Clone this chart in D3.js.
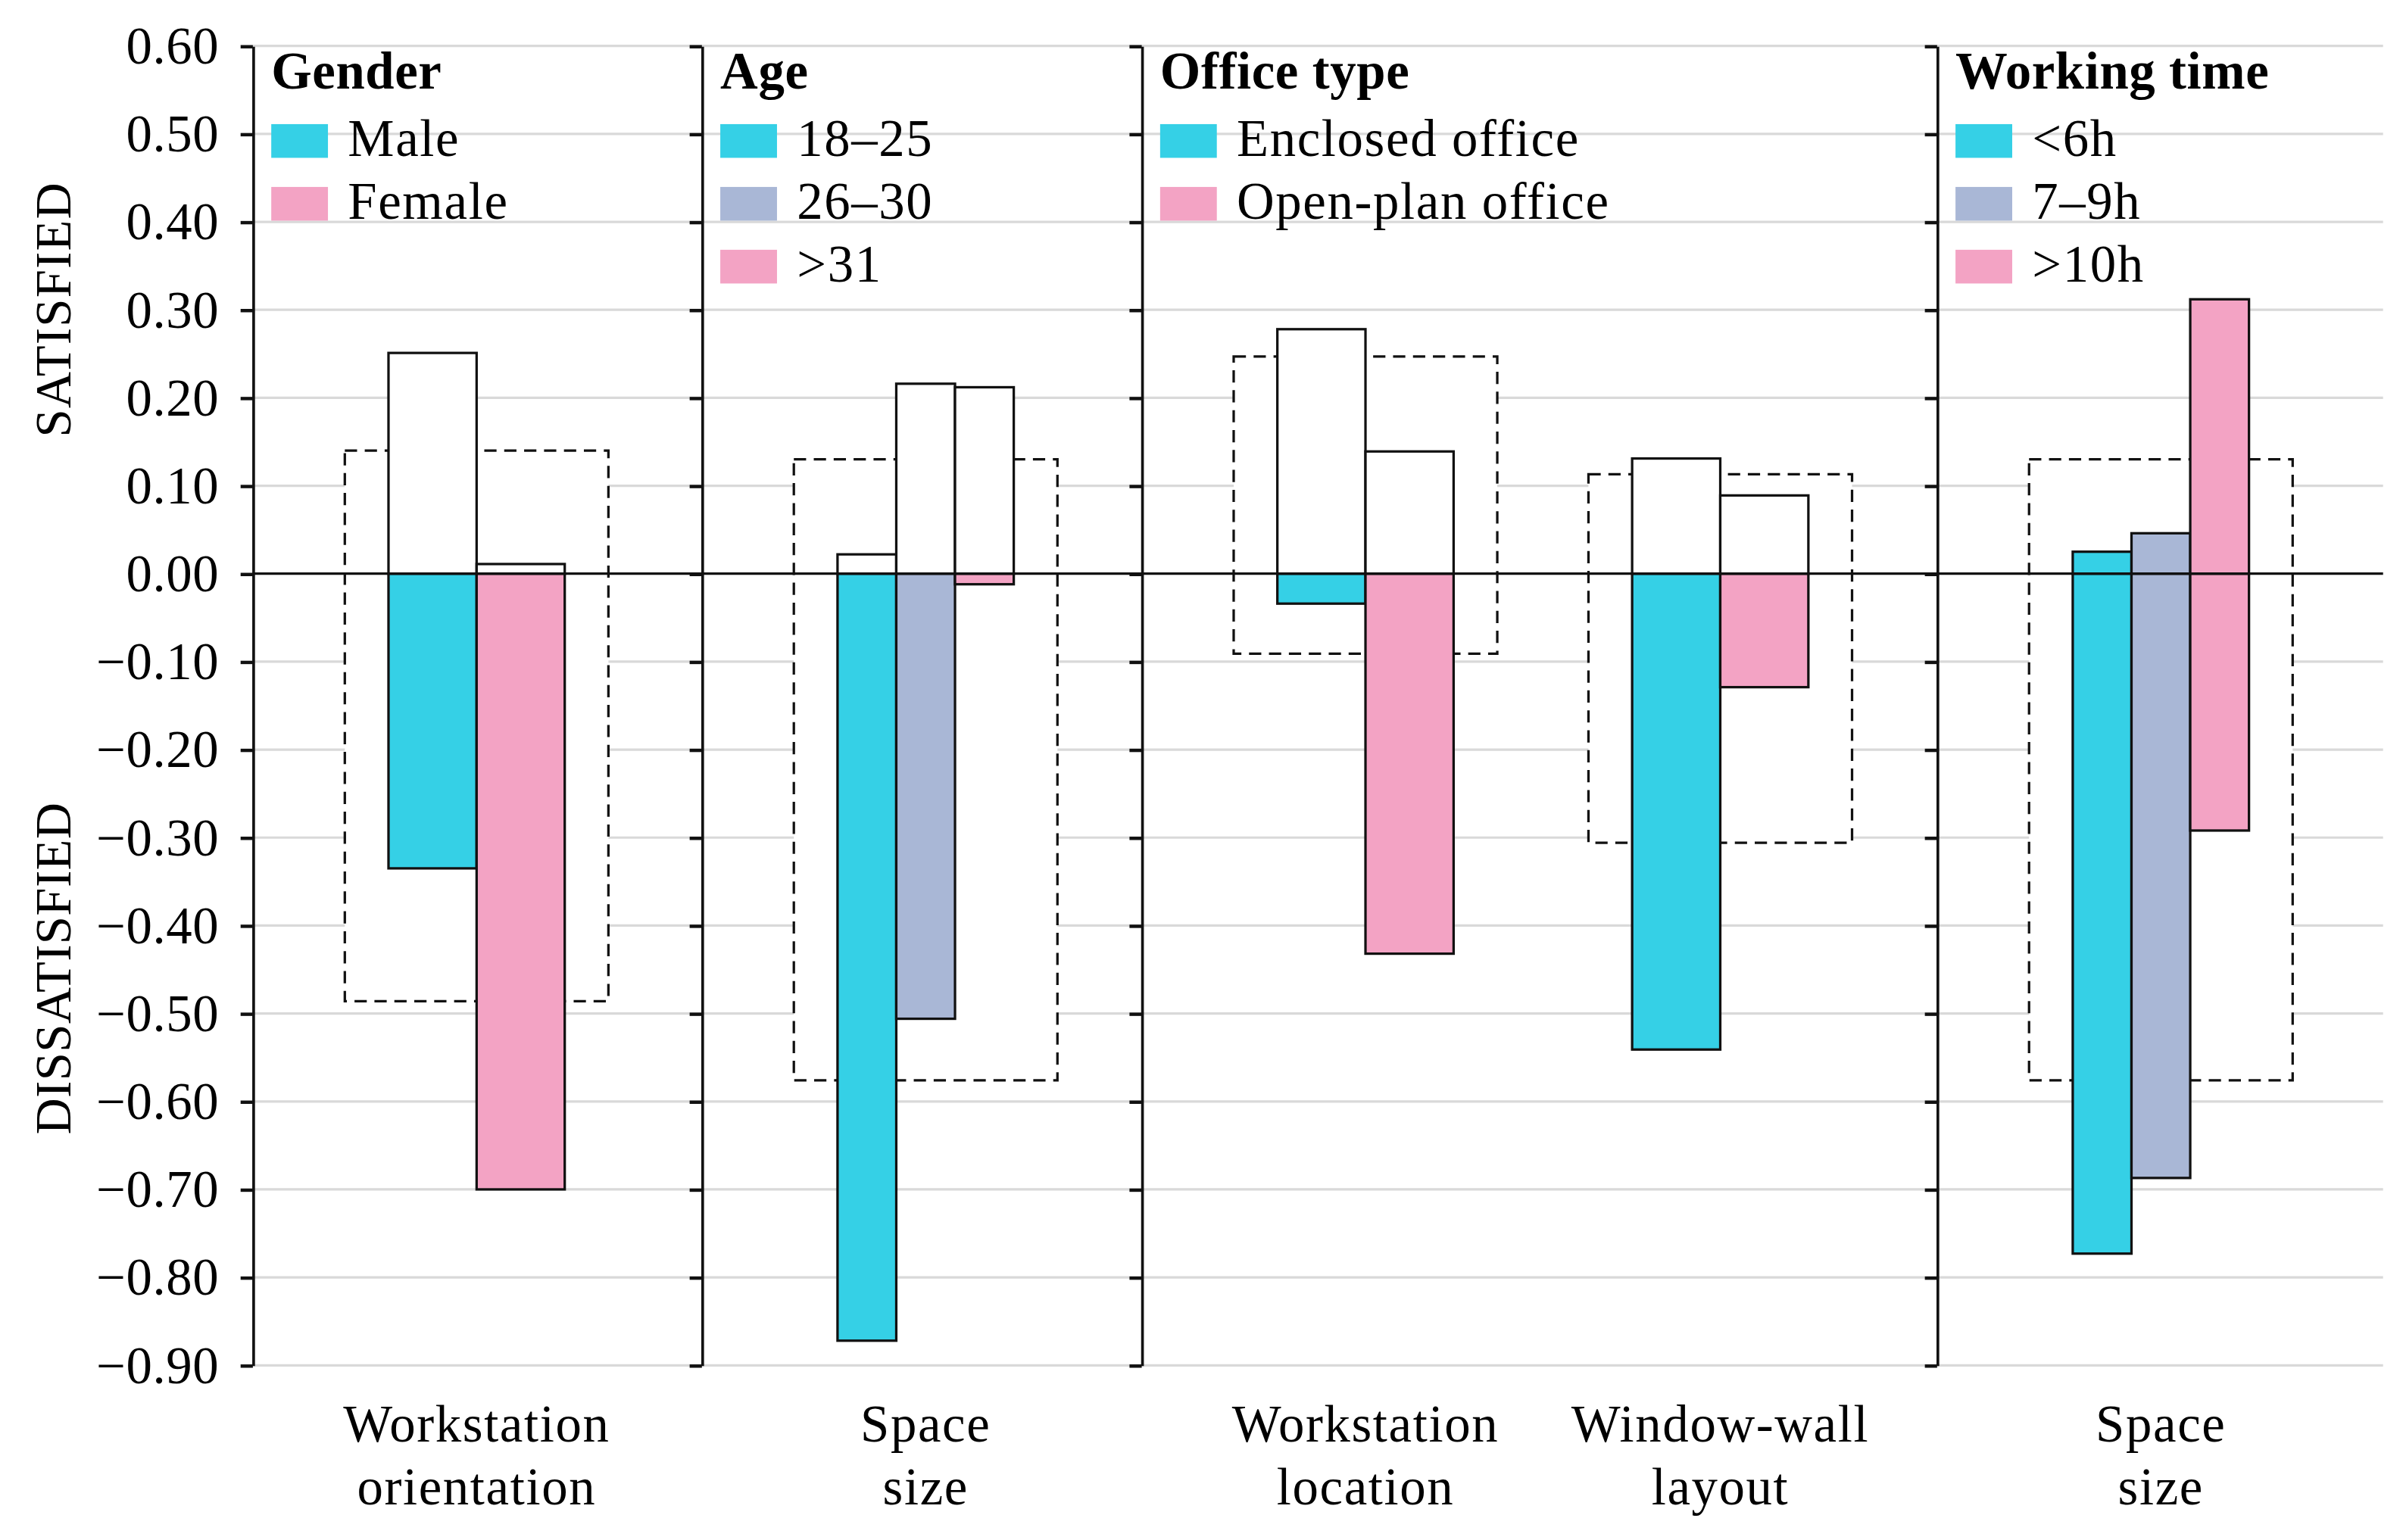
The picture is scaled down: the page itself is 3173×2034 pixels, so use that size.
<!DOCTYPE html>
<html>
<head>
<meta charset="utf-8">
<script src="https://cdn.jsdelivr.net/npm/d3@7"></script>
<style>html,body{margin:0}svg{display:block}</style>
</head>
<body>
<script>
// ---------------- DATA ----------------
const panelTitles = ["Gender", "Age", "Office type", "Working time"];
const panelSeries = [
  ["Male", "Female"],
  ["18–25", "26–30", ">31"],
  ["Enclosed office", "Open-plan office"],
  ["<6h", "7–9h", ">10h"]
];
const panelColors = [
  ["#35d0e6", "#f3a3c4"],
  ["#35d0e6", "#a9b7d6", "#f3a3c4"],
  ["#35d0e6", "#f3a3c4"],
  ["#35d0e6", "#a9b7d6", "#f3a3c4"]
];
// whether the satisfied (positive) part is filled with the series colour
const panelFillPositive = [false, false, false, true];

const groupPanel = [0, 1, 2, 2, 3];
const groupLabels = [
  ["Workstation", "orientation"],
  ["Space", "size"],
  ["Workstation", "location"],
  ["Window-wall", "layout"],
  ["Space", "size"]
];
const satisfiedValues = [
  [0.251, 0.011],
  [0.022, 0.216, 0.212],
  [0.278, 0.139],
  [0.131, 0.089],
  [0.025, 0.046, 0.312]
];
const dissatisfiedValues = [
  [-0.335, -0.700],
  [-0.872, -0.506, -0.012],
  [-0.034, -0.432],
  [-0.541, -0.129],
  [-0.773, -0.687, -0.292]
];
const boxHigh = [0.140, 0.130, 0.247, 0.113, 0.130];
const boxLow = [-0.486, -0.576, -0.091, -0.306, -0.576];

const yTicks = [0.6, 0.5, 0.4, 0.3, 0.2, 0.1, 0.0, -0.1, -0.2, -0.3, -0.4, -0.5, -0.6, -0.7, -0.8, -0.9];
const yTitleTop = "SATISFIED";
const yTitleBottom = "DISSATISFIED";

// ---------------- LAYOUT ----------------
const W = 1568, H = 1005;
const FS = 34;
const panelEdges = [165, 458, 745, 1264];
const rightEdge = 1555;

const svg = d3.select("body").append("svg")
  .attr("width", 3173).attr("height", 2034)
  .attr("viewBox", `0 0 ${W} ${H}`)
  .attr("preserveAspectRatio", "none");

const y = d3.scaleLinear().domain([-0.9, 0.6]).range([891, 30]);

// group centers
const groupCenters = [];
const groupIndexInPanel = {};
groupPanel.forEach((p, gi) => {
  const k = groupIndexInPanel[p] || 0;
  groupIndexInPanel[p] = k + 1;
  groupCenters.push(panelEdges[p] + 146 + k * 231.5);
});

// grid lines
svg.append("g").selectAll("line").data(yTicks.filter(t => Math.abs(t) > 1e-9)).join("line")
  .attr("x1", panelEdges[0]).attr("x2", rightEdge)
  .attr("y1", d => y(d)).attr("y2", d => y(d))
  .attr("stroke", "#d9d9d9").attr("stroke-width", 1.6);

// dashed boxes (white filled; hide gridlines)
const half = 86;
svg.append("g").selectAll("rect").data(groupCenters).join("rect")
  .attr("x", d => d - half)
  .attr("width", half * 2)
  .attr("y", (d, i) => y(boxHigh[i]))
  .attr("height", (d, i) => y(boxLow[i]) - y(boxHigh[i]))
  .attr("fill", "#fff")
  .attr("stroke", "#111").attr("stroke-width", 1.6)
  .attr("stroke-dasharray", "8,5");

// bars
groupCenters.forEach((c, gi) => {
  const p = groupPanel[gi];
  const series = panelSeries[p];
  const xb = d3.scaleBand().domain(series).range([c - 57.5, c + 57.5]).padding(0);
  const g = svg.append("g");
  g.selectAll("rect.sat").data(series).join("rect")
    .attr("class", "sat")
    .attr("x", d => xb(d)).attr("width", xb.bandwidth())
    .attr("y", (d, i) => y(satisfiedValues[gi][i]))
    .attr("height", (d, i) => y(0) - y(satisfiedValues[gi][i]))
    .attr("fill", (d, i) => panelFillPositive[p] ? panelColors[p][i] : "#fff")
    .attr("stroke", "#111").attr("stroke-width", 1.6);
  g.selectAll("rect.dis").data(series).join("rect")
    .attr("class", "dis")
    .attr("x", d => xb(d)).attr("width", xb.bandwidth())
    .attr("y", y(0))
    .attr("height", (d, i) => y(dissatisfiedValues[gi][i]) - y(0))
    .attr("fill", (d, i) => panelColors[p][i])
    .attr("stroke", "#111").attr("stroke-width", 1.6);
});

// zero line
svg.append("line")
  .attr("x1", panelEdges[0]).attr("x2", rightEdge)
  .attr("y1", y(0)).attr("y2", y(0))
  .attr("stroke", "#111").attr("stroke-width", 1.6);

// axes (lines only; labels drawn separately)
panelEdges.forEach((ex) => {
  const ax = d3.axisLeft(y).tickValues(yTicks).tickSize(8).tickSizeOuter(0).tickFormat(() => "");
  const g = svg.append("g").attr("transform", `translate(${ex},0)`).call(ax);
  g.selectAll(".tick text").remove();
  g.select(".domain").attr("stroke", "#111").attr("stroke-width", 1.8);
  g.selectAll(".tick line").attr("stroke", "#111").attr("stroke-width", 2.2);
});

// helper for plain serif text, same way as verified working
function addText(x, yy, str, size, extra) {
  const t = svg.append("text").attr("x", x).attr("y", yy)
    .attr("font-size", size).style("font-family", '"Liberation Serif"');
  if (extra) Object.entries(extra).forEach(([k, v]) => t.attr(k, v));
  t.text(str);
  return t;
}

// y tick labels
const fmt = d3.format(".2f");
yTicks.forEach(v => {
  addText(panelEdges[0] - 22, y(v), fmt(v), FS, {"text-anchor": "end", "dy": "0.34em", "letter-spacing": 0.3});
});

// legends
panelTitles.forEach((t, p) => {
  const lx = panelEdges[p] + 12;
  addText(lx, 58, t, FS, {"font-weight": "bold", "letter-spacing": 0.3});
  panelSeries[p].forEach((s, i) => {
    svg.append("rect")
      .attr("x", lx).attr("y", 81 + 41 * i)
      .attr("width", 37).attr("height", 22)
      .attr("fill", panelColors[p][i]);
    addText(lx + 50, 102 + 41 * i, s, FS, {"letter-spacing": 0.8});
  });
});

// category labels
groupCenters.forEach((c, gi) => {
  groupLabels[gi].forEach((line, li) => {
    addText(c, 941 + li * 41, line, FS, {"text-anchor": "middle", "letter-spacing": 0.8});
  });
});

// y titles
addText(0, 0, yTitleTop, 33, {"transform": "translate(46,202) rotate(-90)", "text-anchor": "middle", "letter-spacing": 0.6});
addText(0, 0, yTitleBottom, 33, {"transform": "translate(46,632) rotate(-90)", "text-anchor": "middle", "letter-spacing": 0.2});
</script>
</body>
</html>
